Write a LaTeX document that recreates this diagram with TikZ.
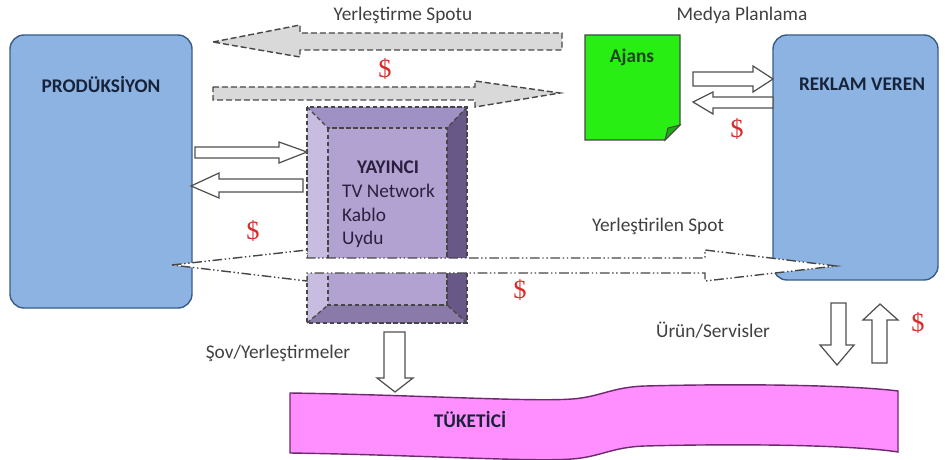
\documentclass[tikz,border=0pt]{standalone}
\usepackage{fontspec}
\setmainfont{Carlito}
\newfontfamily\moneyfont{Liberation Serif}
\usepackage{tikz}

\definecolor{boxblue}{RGB}{141,179,226}
\definecolor{boxedge}{RGB}{56,93,138}
\definecolor{boxink}{RGB}{23,35,58}
\definecolor{labelink}{RGB}{64,64,64}
\definecolor{moneyred}{RGB}{220,40,40}
\definecolor{arrowedge}{RGB}{80,80,80}
\definecolor{dashgray}{RGB}{70,70,70}
\definecolor{spotgray}{RGB}{217,217,217}
\definecolor{agencygreen}{RGB}{40,238,20}
\definecolor{agencyfold}{RGB}{30,170,20}
\definecolor{agencyink}{RGB}{25,70,25}
\definecolor{yayface}{RGB}{178,162,210}
\definecolor{yaytop}{RGB}{160,145,196}
\definecolor{yayleft}{RGB}{200,188,224}
\definecolor{yayright}{RGB}{104,88,136}
\definecolor{yaybottom}{RGB}{138,122,170}
\definecolor{yayink}{RGB}{42,32,62}
\definecolor{consumerpink}{RGB}{255,142,255}
\definecolor{consumeredge}{RGB}{110,40,110}

\begin{document}
\begin{tikzpicture}[x=0.02cm,y=-0.02cm,
	box/.style={draw=boxedge,fill=boxblue,line width=0.8pt,rounded corners=8pt},
	boxtext/.style={font=\fontsize{11}{13}\selectfont\bfseries,text=boxink},
	label/.style={font=\fontsize{11}{13}\selectfont,text=labelink},
	money/.style={font=\moneyfont\fontsize{15}{15}\selectfont,text=moneyred},
	hollow/.style={draw=arrowedge,fill=white,line width=0.7pt},
	spot/.style={draw=dashgray,fill=spotgray,line width=0.8pt,dash pattern=on 3.4pt off 1.7pt},
	bevel/.style={draw=dashgray,line width=0.7pt,dash pattern=on 2.5pt off 1.5pt},
	aired/.style={draw=dashgray,fill=white,line width=0.8pt,dash pattern=on 5.5pt off 1.5pt on 0.8pt off 1.5pt on 0.8pt off 1.5pt}]
	\useasboundingbox (0,0) rectangle (945,459);
	
	% main blocks
	\draw[box] (10,35) rectangle (192,308);
	\node[boxtext] (prodtxt) at (101,84) {PRODÜKSİYON};
	\draw[box] (773,35) rectangle (938,280);
	\node[boxtext] (rektxt) at (862,84) {REKLAM VEREN};
	
	% agency note
	\draw[draw=dashgray,fill=agencygreen,line width=0.7pt] (585,35) -- (680,35) -- (680,125) -- (665,140) -- (585,140) -- cycle;
	\draw[draw=dashgray,fill=agencyfold,line width=0.5pt] (665,140) -- (668,128) -- (680,125) -- cycle;
	\node[boxtext,text=agencyink] (ajanstxt) at (632,57) {Ajans};
	
	% broadcaster bevel
	\fill[yayface] (307,107) rectangle (467,323);
	\fill[yaytop] (307,107) -- (467,107) -- (447,128) -- (328,128) -- cycle;
	\fill[yayleft] (307,107) -- (328,128) -- (328,305) -- (307,323) -- cycle;
	\fill[yayright] (467,107) -- (467,323) -- (447,305) -- (447,128) -- cycle;
	\fill[yaybottom] (307,323) -- (467,323) -- (447,305) -- (328,305) -- cycle;
	\draw[bevel] (307,107) rectangle (467,323);
	\draw[bevel] (328,128) rectangle (447,305);
	\draw[bevel] (307,107) -- (328,128) (467,107) -- (447,128) (467,323) -- (447,305) (307,323) -- (328,305);
	\node[boxtext,text=yayink] (yaytxt) at (388,167) {YAYINCI};
	\node[label,text=yayink,anchor=west] (tvtxt) at (336,191) {TV Network};
	\node[label,text=yayink,anchor=west] (kablotxt) at (336,215) {Kablo};
	\node[label,text=yayink,anchor=west] (uydutxt) at (336,239) {Uydu};
	
	% spot arrows
	\draw[spot] (213,42) -- (300,25) -- (300,33) -- (562,33) -- (562,50) -- (300,50) -- (300,57) -- cycle;
	\draw[spot] (213,87) -- (475,87) -- (475,81) -- (560,93) -- (475,107) -- (475,100) -- (213,100) -- cycle;
	\node[label] (spottxt) at (403,15) {Yerleştirme Spotu};
	\node[label] (medyatxt) at (742,15) {Medya Planlama};
	
	% hollow arrows
	\draw[hollow] (195,147) -- (279,147) -- (279,142) -- (307,152) -- (279,163) -- (279,158) -- (195,158) -- cycle;
	\draw[hollow] (191,186) -- (219,173) -- (219,179) -- (303,179) -- (303,192) -- (219,192) -- (219,198) -- cycle;
	\draw[hollow] (693,72) -- (753,72) -- (753,66) -- (773,79) -- (753,92) -- (753,86) -- (693,86) -- cycle;
	\draw[hollow] (693,102) -- (713,92) -- (713,97) -- (773,97) -- (773,108) -- (713,108) -- (713,114) -- cycle;
	\draw[hollow] (384,332) -- (405,332) -- (405,378) -- (413,378) -- (395,392) -- (377,378) -- (384,378) -- cycle;
	\draw[hollow] (831,303) -- (846,303) -- (846,345) -- (854,345) -- (837,365) -- (820,345) -- (831,345) -- cycle;
	\draw[hollow] (872,363) -- (887,363) -- (887,320) -- (898,320) -- (880,304) -- (863,320) -- (872,320) -- cycle;
	
	% aired spot
	\draw[aired] (172,265) -- (307,250) -- (307,258) -- (705,258) -- (705,250) -- (836,266) -- (705,281) -- (705,273) -- (307,273) -- (307,281) -- cycle;
	\node[label] (airedtxt) at (658,226) {Yerleştirilen Spot};
	
	% consumer
	\draw[draw=consumeredge,fill=consumerpink,line width=0.8pt] (290,393) .. controls (420,395) and (530,402) .. (572,399) .. controls (600,397) and (612,387) .. (645,386) .. controls (760,383) and (860,386) .. (898,391) -- (898,452) .. controls (860,446) and (760,443) .. (645,446) .. controls (612,447) and (600,457) .. (572,459) .. controls (530,462) and (420,455) .. (290,453) -- cycle;
	\node[boxtext,text=boxink] (tuktxt) at (470,419) {TÜKETİCİ};
	\node[label] (sovtxt) at (278,353) {Şov/Yerleştirmeler};
	\node[label] (uruntxt) at (713,330) {Ürün/Servisler};
	
	% money
	\node[money] (money1) at (385,69) {\$};
	\node[money] (money2) at (737,129) {\$};
	\node[money] (money3) at (253,231) {\$};
	\node[money] (money4) at (520,290) {\$};
	\node[money] (money5) at (918,323) {\$};
\end{tikzpicture}
\end{document}
